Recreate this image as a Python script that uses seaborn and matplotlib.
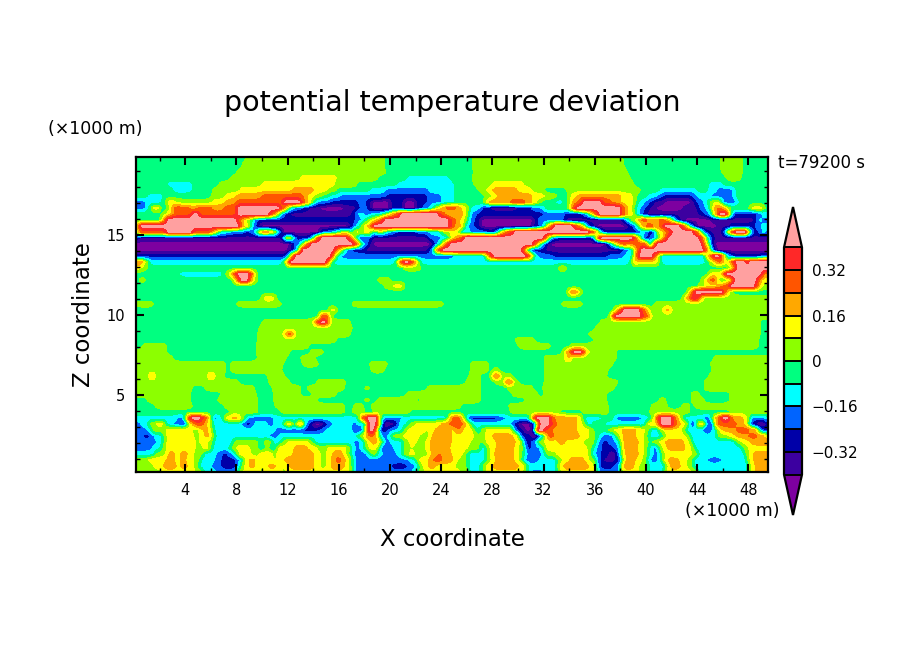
import numpy as np
import matplotlib
matplotlib.use('Agg')
import matplotlib.pyplot as plt
from matplotlib.colors import ListedColormap, BoundaryNorm
import seaborn as sns

# contour levels and fill colours, purple (lowest) to pink (highest)
levels = [-0.40, -0.32, -0.24, -0.16, -0.08, 0, 0.08, 0.16, 0.24, 0.32, 0.40]
under_color = '#7D00A0'
band_colors = ['#3C00A0', '#0000A8', '#0064FF', '#00FFFF', '#00FF80',
               '#8CFF00', '#FFFF00', '#FFA800', '#FF5500', '#FF2828']
over_color = '#FFA0A0'

# value of each colour band
band_values = dict(A=-0.44, B=-0.36, C=-0.28, D=-0.20, E=-0.12, F=-0.04,
                   G=0.04, H=0.12, I=0.20, J=0.28, K=0.36, L=0.44)

x_ticks = list(range(4, 49, 4))
z_ticks = [5, 10, 15]
cbar_ticks = [-0.32, -0.16, 0, 0.16, 0.32]
cbar_labels = ['\u22120.32', '\u22120.16', '0', '0.16', '0.32']

# field, top row first, each row is band + x where it ends (km)
rows = [
    "F8.8 G19.6 F26.4 G38.2 F45.8 G47.6 F50",
    "F8.4 G19.6 F26.4 G38.3 F45.8 G47.6 F50",
    "F8 G19.7 F26.5 G38.5 F45.9 G47.6 F50",
    "F7.6 G13 H15.8 G19 F21.3 E24.7 F26.4 G38.8 F46.3 G47.4 F50",
    "F2.6 E4.6 F6.7 G10 H15.7 G17.4 F20.5 E25 F26.6 G28 H30.4 G39 F44.9 E46 F50",
    "F3 E4.6 F6.2 G8.3 H12.4 I14.1 H15 G15.8 F18.4 E19.7 D23 E25.1 F26.9 G27.5 H28 I29.9 H31 G32 F33.8 G39.5 F41 E44 F44.8 E45.5 D46.8 E47.1 F50",
    "F1 E2.3 F6 G7.2 H8 I10.1 J13.2 I13.6 H14 G14.7 F15.3 E16 D19.7 C22.9 D24 E25.1 F27.4 G28 H28.4 I31 H32 G33 F34 H34.7 I38 H38.9 G39.3 F40 E40.8 D41.3 C43.7 D44.1 E45 D46.8 E47.1 F50",
    "D0.9 E2.2 F2.6 H3.3 G6.2 H7.2 I8 J11.7 L13.1 J13.4 I13.6 H13.9 E14.3 D15.3 C17.6 D18 C18.6 A20 C21 A22.1 C22.9 D24 E25 F27.4 H27.8 I29.4 J30.5 I31 H31.4 G31.8 F32.9 E33.5 F34 H34.2 I34.7 J35 L36.6 J37.3 I38 H39 G39.2 F39.4 E39.9 D40.3 C40.7 B41.4 A43.7 C44.1 D44.6 E44.8 F45 G45.4 H45.8 E46 D46.4 C46.7 D47 E47.3 F50",
    "D0.9 E1.2 F1.4 H2 F2.3 E2.6 G2.8 H3 J4.3 I5.1 J6 I7 J8 L11.4 J11.8 H12 E12.5 D13.2 C13.7 B14.6 A16.4 B17.4 C17.7 D18.2 C18.6 A20 C21 A22 C22.6 D23 E23.4 G23.8 H24 I24.4 J25.2 I25.5 H26 G26.2 E27 D27.2 C27.8 B28.6 B30 C31 D31.8 E32.2 F34 H34.2 J34.5 L38 J38.3 I38.6 H38.9 G39 F39.2 E39.5 D39.9 C40.3 B40.8 A42.9 B44 C44.2 D44.7 E45 G45.2 H45.3 I45.5 J45.8 I46.1 H46.3 G46.5 F48 G48.3 H49 G49.3 F50",
    "F2.2 G2.6 H2.9 I3.2 J4.5 L5 J8 L10.5 J10.9 I11.1 H11.3 E11.5 D11.8 C12.2 B17.2 D17.5 E17.9 D18.6 E19.4 F19.7 G20 H20.2 I20.5 J20.8 L23.8 J24.3 I24.7 H25.2 J25.4 I25.7 H26 F26.2 E26.3 D26.8 C32 D33.7 C35 D35.3 E35.7 H36 J36.3 L38.1 J38.3 I38.6 H39 G39.2 E39.5 D39.7 C40 B44.2 C44.7 D45 E45.2 G45.3 H45.5 J45.7 L46.3 J46.5 G46.6 E46.8 C48.7 D49 E50",
    "F2 G2.2 H2.4 J2.6 L8 J8.4 H8.8 G9.2 E9.4 D9.7 C17.3 D17.8 E18 F18.3 G18.7 H19 I19.2 J19.5 L24.7 J25.2 I25.4 H25.8 G26 E26.3 D26.6 C27 A31.3 C31.6 D33.5 C33.7 B38.2 C38.4 E38.8 G39.2 H39.5 J40 I41 J41.4 I41.7 H42 E42.3 D42.5 B43 A45 B48.5 C48.7 E49 D50",
    "F0.2 H0.3 J0.4 L8.3 I8.5 H9 E9.4 C9.8 A16.8 B17 C17.1 D17.4 E17.7 G18 H18.3 I18.5 J18.7 L24.7 J25 I25.5 H25.8 E26.1 D26.6 C27 A31 B31.3 C31.7 D32 E32.2 H32.5 J32.8 L34.3 J34.7 I35 H35.2 E35.4 D35.6 C36 A38.6 C39 D39.2 E39.4 G39.6 H39.8 I40 J40.5 I41 J41.4 L42.7 J43 H43.3 E43.5 D43.7 C43.9 A45.5 B46.5 C48.5 D49 E50",
    "E0.3 J2.5 L4.5 J6 H6.5 E7.5 D8.7 C9 D9.5 E9.7 H10.2 J10.4 H11 E11.3 D11.5 A14.5 C14.7 D15.6 E16 G16.5 H16.8 E17.2 H17.5 G18 H18.5 E19 H19.2 G19.5 E20 D20.5 C22 D23 E24 G24.7 H25.4 E26.3 D27.5 C28.2 D28.5 H29 J29.7 L35.6 J36 H36.3 E36.5 C39.6 E40 C40.8 H41.5 J42 L43.7 J44 H44.3 E44.6 C45 B46 D46.2 E46.4 H46.6 J46.9 L47.9 H48 E48.3 C48.9 E49.3 D50",
    "C0.4 B11.5 C11.7 E11.9 H12.3 E12.5 C13.7 D14 E14.1 H14.3 J14.6 L16.7 J17 H17.3 E17.5 C18 D18.5 B23 D24 E24.7 H25 I25.4 J25.8 L32 J32.2 H32.4 E32.5 D33 C36 H36.2 J36.4 L39 J39.3 H39.6 E39.8 C40.3 D40.7 E41 H41.4 J41.7 L44.2 J44.5 H44.7 E45 C45.3 B50",
    "A12.3 C12.6 D13 E13.2 H13.5 J13.8 L17.2 J17.5 H17.7 E18 D18.2 C18.5 A23.4 D23.7 E24 H24.3 J24.7 L31.2 J31.4 H31.7 E32 C32.4 A36.9 C37 D37.2 E37.5 H38 J38.4 I39 J40 H40.2 E40.4 D40.6 J40.8 L44.4 J44.6 H44.9 E45.1 C45.3 A50",
    "A12 B12.3 C12.5 D12.7 E12.9 H13 J13.1 L15.7 I16 H16.3 E16.7 D17 C18 B23 C23.2 D23.4 E23.5 H23.6 J24 L30.3 J30.5 H30.7 E30.9 D31 C32 B38 C38.3 D38.7 E39 H39.3 J39.6 L44.5 J44.8 H45 E45.2 D45.3 B45.6 A50",
    "C12 E12.2 H12.4 J12.5 L15.4 J15.6 H15.8 E16.2 D25 E27.5 H27.7 J28 L30.7 J31 H31.2 E31.6 D32.7 C37 D38.3 E39 H39.2 J39.4 L40.6 J40.8 H41 E44.7 H44.9 J45.3 L45.8 J46 H46.2 E46.4 D46.8 C49 D50",
    "H0.2 J0.6 H1 E11.8 H12 J12.2 L15 J15.2 H15.4 E20.5 G20.7 J21.1 L21.6 J22 G22.3 E38.9 H39 J39.2 H41 E44.7 F45 H45.6 J46 H46.1 F46.2 H46.7 J46.9 L47.8 J48 L50",
    "H0.6 G1 F21 G22.4 F33.3 H33.7 F46.6 H46.9 J47 L50",
    "F3.6 E7 G7.5 H7.7 J8 L9 J9.3 H9.5 G9.6 F44.9 H46 J46.2 L49 J49.2 I50",
    "F0.4 G0.9 F7.8 H8 J8.3 L9 H9.6 F19 G20 F44.4 H44.9 J45.5 H45.7 F46 G46.7 J46.9 L48.7 J48.9 H50",
    "F19.5 G20.3 H21 F22 F44 G44.5 H45.5 I46 J46.5 L48.6 J48.8 H49 G50",
    "F33.9 H34.2 J34.6 H34.9 F43.3 H43.5 J43.8 L46 J46.3 H46.5 G46.8 F50",
    "F10 H11 F42.9 H43.3 J43.7 L44 J44.2 H44.5 G50",
    "F0.2 G1.6 F8 G11.5 F17 G24.2 F33.4 G35.1 F40.7 G50",
    "F15.3 H15.8 F37.6 H37.9 J38.2 L39.5 J40 H40.2 G41.4 I41.9 G50",
    "F14.5 J15.3 F37.3 J37.6 L39.7 J40.3 G50",
    "F10.1 G14 H14.2 J14.6 L15 J15.2 H15.4 G16.9 F36.4 G48.9 F50",
    "F9.8 G17.1 F36 G48.9 F50",
    "F9.7 G11.7 H11.9 J12.4 H12.6 G16.9 F35.5 G48.9 F50",
    "F9.7 G15.8 F29.8 G31.3 F35.9 G48.8 F50",
    "F0.7 G2.6 F9.6 G13.7 F30 G32.6 F34 G48.8 F50",
    "F0.2 G2.5 F9.5 G12.2 F13.8 G14.8 F33.5 H33.9 J34.3 L35 J35.2 H35.5 G37.7 F50",
    "G3 F9.7 G11.9 F13 G14.2 F32.1 G33.8 J34 G37.7 F45.3 G50",
    "G7.2 F7.5 G11.7 F13.2 G14.4 F18.4 G19.8 F26.3 G27.7 F32.1 G37.4 F45 G50",
    "G7.2 F7.5 G11.5 F18.6 G19.6 F26.3 G27.7 F28 G28.6 F32 G37 F45.2 G50",
    "G1.3 J1.6 G5.9 J6.2 G7 F10.4 G11.8 F26.2 G27 F27.9 G28.1 J28.5 G29.5 F32.1 G36.9 F44.9 G50",
    "G8.2 F10.5 G12.2 F14.3 G16.6 F25.9 G27 F28.2 G29 J29.6 G30 F32 G37.8 F44.6 G50",
    "G4.5 F5.6 G9.4 F10.8 G13 F13.6 G16.4 F18 G18.4 F22.9 G27 F29.2 G31.2 F31.9 G37.6 F44.6 G50",
    "G4.4 F6.8 G9.6 F10.9 G13 F13.9 G15.8 F21.3 G27 F29.5 G31.6 F32 G36.9 F43.5 G44.2 F46.6 G50",
    "F1 G4.4 F6.5 G9.7 F10.9 G14.3 F18 G18.4 F19.1 G22 F22.4 G27 F30.5 G36.9 F41 G41.5 F43.5 G44.5 F46.6 G50",
    "F1.7 G4.5 F7 G9.7 F11 G16.4 F17.2 G17.9 F18.6 G25.5 F29.3 G37 F40.4 G41.7 F42.8 G43.4 F43.8 G50",
    "F7.5 G9.7 F11.5 G16.4 F17 G18 F18.7 G21.5 F29.4 G33.3 F35 G37 F40.3 G43.4 F46.6 G50",
    "E3.4 D4 J4.4 L5.3 J5.8 H6 D6.6 E7.1 H7.7 I8.1 H8.5 E8.9 D10.9 E17.7 J18.2 L19 J19.2 E19.5 D20.9 E24.5 H24.8 J25.6 H25.8 E26.2 C28.4 D29 E31 J31.4 L32.5 J32.8 I34.6 H35 E36.5 F37.5 D39.7 E40.3 F40.7 J41 L42 J42.4 H42.8 E44.4 D45.2 H45.5 J45.9 L46.6 I47.5 H48 E48.2 D49.3 E50",
    "D0.6 E1.2 G1.8 H2.4 E3 D3.7 C4.2 H4.7 J5.6 H6 E8.6 C9.3 E10.4 D10.9 E11.8 H12.4 E12.8 J13.2 E13.5 C13.9 A14.8 C15.2 D15.6 E17 D17.6 F17.8 C18 H18.3 L19 H19.3 C19.5 A20.1 C20.3 A20.6 E21.3 F21.6 G22 H24 I24.7 J25.7 I26 G26.3 E29.5 C30 A31 C31.4 D31.6 L32.6 J33 I34.6 H35 G35.3 E35.8 F36.8 E40 H41 L42 J42.5 H43 G43.4 C43.9 H44.7 C45.3 H45.5 J47 I47.7 H48 C48.7 A49.3 C50",
    "D1 E1.4 G2.5 H4.6 G5.1 H5.4 I5.8 H6 G6.2 E6.5 E11 D13.2 C14.5 D15 E17 D17.3 C17.8 E18.2 L18.8 J19 C20 E20.3 D20.5 E21 G21.4 H22.8 G23 H23.5 I24.8 H25.2 J25.5 H26.4 G26.7 E27 G27.5 H29.5 E29.8 C30.4 A31.2 D31.4 L32.1 J32.8 H33 J33.2 I34.6 H35.5 G35.9 F37 G37.5 H38.2 I39.2 H39.9 G40.3 E41 G41.3 H42.8 G43 E44.6 C45 E45.5 G45.7 H46 I47 J48 I48.5 H48.8 D49.2 C50",
    "D0.7 C1.3 D1.6 E2.3 G2.5 H4.7 G5.2 H5.6 I5.9 H6 G6.3 E10.6 D11.3 E16 E17.5 G18 I18.4 J18.8 H19.2 D19.8 E20.2 G21 H22.3 G23 H23.3 I24.8 H25.3 H26.5 G27 F27.2 G27.4 H28 I29.6 H30 G30.1 E30.2 C31 A31.6 D32 H32.3 J32.9 H33.2 J33.5 H33.7 I34.8 H35.5 G36 F36.3 E36.5 D37.4 E37.7 G38 H38.2 I39.2 H39.8 G40.2 E41.2 F41.5 G41.6 H43 G43.4 E45.5 G46.5 H47 I48 J48.7 I49.2 H50",
    "D1.8 E2.3 G2.5 H4.8 G5.2 H5.8 G6.2 E7.8 G9.8 E10 G10.8 E11.5 G12 H13.5 G14 E17.2 D17.7 E18 G18.2 H18.5 I19 H19.2 G19.4 E19.6 D20 E21 G21.5 H22 G22.8 H23.2 I24.8 H25.3 H26.3 G27 E27.2 G27.5 H28.3 I29.8 H30.2 G30.4 C31 D31.5 G32 H33.2 I33.7 H35 G36 E36.3 D36.5 C37 D37.7 E38 H38.2 I39.4 H39.8 G40.2 F40.5 G41 H41.5 I42.9 H43.4 G43.6 E47 G47.5 H48.2 I50",
    "D1.4 E2.2 G2.5 H4.8 G5.4 H5.8 G6 E7.5 G8 H9 G9.8 E10.2 G10.7 E11.2 H12.5 I13.5 H14.3 G15.2 H16.6 G16.9 E17.3 D17.7 E18 G18.4 H19 G19.2 D19.6 C19.8 D20.3 E21 G21.5 H21.8 G22.8 H23.2 I24.7 H26 G27 E27.5 G27.8 H28.3 I29.7 H30.1 G30.5 E30.6 C31 D31.7 E32 G32.2 H35.4 G35.7 F36 E36.1 D36.5 C37.6 D38 E38.1 H38.3 I39.3 H39.8 G40.2 E40.6 D40.9 E41.1 G41.3 H41.7 I43 H43.5 G43.8 E47.5 G48 H50",
    "E1.7 G2.5 H2.7 I3.2 H3.7 I4.2 H4.7 G5.4 E6.4 D6.9 C7.3 D7.8 E8 G8.2 H9.2 G9.8 H10.8 G11.2 H12.4 I14 H14.5 G15 H15.6 I15.9 J16 I16.3 H16.6 G16.9 E17.2 D18.2 E18.6 G19 D19.3 E19.6 D20.6 E21 G21.5 H21.9 G23 H23.2 I23.8 J24 I24.8 H25.7 G26 E27.5 G27.8 H28.2 I29.7 H30.1 G30.4 E30.7 D31.9 E32.2 G33 H35.5 G35.7 E36 D36.4 C37.2 A37.6 C37.9 D38.1 H38.4 I39.4 H39.8 G40.2 E40.5 D41 E41.2 G41.5 H42 G42.3 H43.5 G44 E47.8 G48 H48.4 I50",
    "G1.2 H2.5 I3.2 H3.7 I4.1 H4.7 G5.2 E6.3 D6.8 C8 D8.2 E8.5 G8.7 H9 I9.4 H9.9 G10.2 H10.9 G11.2 H11.8 I14 H14.6 G15 H15.4 I15.8 J16.2 I16.5 H16.8 G17 E17.3 D21.4 E22 G22.3 H23 I23.4 J24 I24.9 H25.3 G26 E27.6 G27.9 H28.3 I29.7 H30 G30.3 E30.5 D31.7 E33 G33.5 H34 I35.2 H35.6 G36 E36.3 C36.7 B37.7 C38 D38.2 H38.4 I39.2 H39.7 G40.1 E40.3 D41 E41.2 G41.5 H41.7 I42.6 H43.2 G43.7 E44.8 D45.9 E47.9 G48.1 H48.4 I50",
    "G1.6 H2.3 I3.3 H3.7 I4.2 H4.7 G5 E6 D6.8 C8 D8.3 G8.7 H9 I9.4 H9.9 G10.2 H10.6 I11 H11.4 G11.7 H12.2 I14 H14.5 G15 H15.4 I15.9 J16 I16.4 H16.8 G17 E17.3 D20 C21.4 D22 E22.3 G22.6 H23 I23.5 H25 G26 E27.2 G27.5 H28 I30 H30.5 G30.7 E31 D31.2 E33 G33.3 H33.6 I35.5 H36 G36.1 E36.3 C37.5 D38 H38.2 I39 H39.4 G40.2 E41.5 G41.7 H41.9 I42.7 H43.2 G43.7 E48 G48.2 H48.5 I50",
    "G2.3 H4.8 G5.4 E6.4 D8 G8.6 H9.8 G10.2 H11.5 G12 H16.8 G17.2 D21.7 E22.2 G22.8 H25.5 G26.2 E27.2 G27.6 H30.4 G30.7 E31 D32 E33 G33.4 H36 G36.2 E36.4 D38 H39.4 G40.2 E41.4 G41.6 H43.7 G44 E48 H48.6 I50",
]

sns.set_theme(style='ticks')
plt.rcParams['font.family'] = ['DejaVu Sans']

x_grid = np.arange(0.1, 49.7, 0.125)
z_grid = 19.69 - 0.375 * np.arange(len(rows))
z_grid[0] = 19.95
z_grid[-1] = 0.15

field = np.zeros((len(rows), x_grid.size))
for r, row in enumerate(rows):
    start = 0.0
    for tok in row.split():
        field[r, x_grid >= start] = band_values[tok[0]]
        start = float(tok[1:])

# soften the run edges along x so the contours do not look like stairs
kernel = np.hanning(9)
kernel = kernel / kernel.sum()
for r in range(field.shape[0]):
    padded = np.pad(field[r], 4, mode='edge')
    field[r] = np.convolve(padded, kernel, mode='valid')

W, H = 904, 654
fig = plt.figure(figsize=(W / 100, H / 100), dpi=100, facecolor='white')
ax = fig.add_axes([136 / W, 1 - 472 / H, 632 / W, 315 / H])

cmap = ListedColormap(sns.color_palette(band_colors))
cmap.set_under(under_color)
cmap.set_over(over_color)
norm = BoundaryNorm(levels, cmap.N)
cs = ax.contourf(x_grid, z_grid, field, levels=levels, cmap=cmap, norm=norm, extend='both')

ax.set_xlim(0.16, 49.53)
ax.set_ylim(0.19, 19.88)
ax.set_xticks(x_ticks)
ax.set_xticks(range(2, 50, 2), minor=True)
ax.set_yticks(z_ticks)
ax.set_yticks(range(1, 20), minor=True)
ax.tick_params(which='major', direction='in', length=6, width=1.5, top=True, right=True,
               color='black', labelsize=10.5, labelcolor='black')
ax.tick_params(which='minor', direction='in', length=3, width=1, top=True, right=True, color='black')
ax.tick_params(axis='x', which='major', pad=8)
ax.tick_params(axis='y', which='major', pad=8)
sns.despine(ax=ax, top=False, right=False)
for s in ax.spines.values():
    s.set_linewidth(1.6)
    s.set_color('black')
ax.set_axisbelow(False)

# colorbar axes runs from tip to tip, the extensions take 40 px at each end
cax = fig.add_axes([784 / W, 1 - 515 / H, 18 / W, 308 / H])
cbar = fig.colorbar(cs, cax=cax, extend='both', extendfrac=0.178, drawedges=True, ticks=cbar_ticks)
cbar.minorticks_off()
cbar.ax.set_yticklabels(cbar_labels)
cbar.ax.tick_params(length=0, pad=7, labelsize=11, labelcolor='black')
cbar.outline.set_linewidth(1.6)
cbar.outline.set_edgecolor('black')
cbar.dividers.set_linewidth(1.4)
cbar.dividers.set_color('black')


def px_text(x, y, s, **kw):
    fig.text(x / W, 1 - y / H, s, color='black', ha=kw.pop('ha', 'center'), va='center', **kw)


px_text(452, 103, 'potential temperature deviation', fontsize=20.5)
px_text(452, 539, 'X coordinate', fontsize=16.5)
px_text(83, 315, 'Z coordinate', fontsize=16.5, rotation=90)
px_text(95, 129, '(\u00d71000 m)', fontsize=12.5)
px_text(732, 511, '(\u00d71000 m)', fontsize=12.5)
px_text(822, 163, 't=79200 s', fontsize=12)

fig.savefig('out.png', dpi=100)
